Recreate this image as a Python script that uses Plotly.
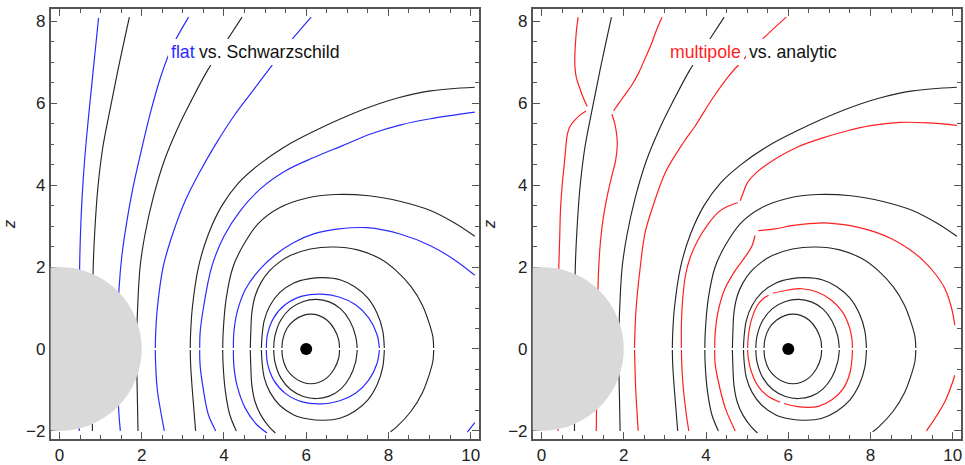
import plotly.graph_objects as go

# ---------------- data: contour curves, (x, z) ----------------
# black contours (identical in both panels); small breaks at z = 0 as in the original
black_1 = [(1.70, 8.10), (1.42, 6.8), (1.22, 5.8), (1.05, 4.9), (0.93, 3.9), (0.86, 2.9), (0.82, 2.0), (0.80, 0.025)]
black_1b = [(0.80, -0.025), (0.80, -2.0)]
black_2 = [(4.44, 8.10), (4.05, 7.5), (3.60, 6.8), (3.20, 6.05), (2.88, 5.4), (2.55, 4.6), (2.28, 3.7), (2.08, 2.8), (1.96, 2.0), (1.90, 1.0), (1.87, 0.025)]
black_2b = [(1.87, -0.025), (1.89, -1.0), (1.91, -2.0)]
black_3 = [(10.10, 6.39), (9.02, 6.30), (8.20, 6.12), (7.40, 5.85), (6.20, 5.32), (5.45, 4.92), (4.85, 4.50), (4.35, 4.05), (3.95, 3.50), (3.62, 2.80), (3.38, 2.0), (3.23, 1.0), (3.19, 0.4), (3.18, 0.025)]
black_3b = [(3.18, -0.025), (3.19, -0.4), (3.23, -1.0), (3.31, -2.0)]
black_4 = [(10.10, 2.75), (9.60, 3.08), (9.02, 3.38), (8.30, 3.60), (7.52, 3.74), (6.70, 3.77), (6.00, 3.68), (5.35, 3.45), (4.85, 3.08), (4.48, 2.55), (4.22, 2.0), (4.05, 1.2), (3.98, 0.4), (3.97, 0.025)]
black_4b = [(3.97, -0.025), (3.98, -0.4), (4.03, -1.0), (4.14, -1.6), (4.30, -2.0)]
black_5 = [(4.64, 0.025), (4.65, 0.35), (4.68, 0.90), (4.76, 1.30), (4.90, 1.62), (5.10, 1.90), (5.35, 2.12), (5.61, 2.28), (6.10, 2.44), (6.67, 2.49), (7.25, 2.42), (7.80, 2.20), (8.20, 1.90), (8.55, 1.52), (8.82, 1.08), (9.00, 0.60), (9.08, 0.30), (9.10, 0.025)]
black_5b = [(4.64, -0.025), (4.65, -0.35), (4.68, -0.90), (4.76, -1.30), (4.90, -1.62), (5.10, -1.90), (5.25, -2.05)]
black_5c = [(9.10, -0.025), (9.08, -0.30), (9.00, -0.60), (8.82, -1.08), (8.55, -1.52), (8.20, -1.90), (8.05, -2.02)]
black_6 = [(4.91, 0.025), (4.925, 0.30), (4.98, 0.70), (5.12, 1.06), (5.36, 1.38), (5.70, 1.61), (6.05, 1.71), (6.42, 1.74), (6.82, 1.69), (7.18, 1.52), (7.50, 1.24), (7.73, 0.86), (7.86, 0.45), (7.90, 0.025)]
black_6b = [(4.91, -0.025), (4.925, -0.30), (4.98, -0.70), (5.12, -1.06), (5.36, -1.38), (5.70, -1.61), (6.05, -1.71), (6.42, -1.74), (6.82, -1.69), (7.18, -1.52), (7.50, -1.24), (7.73, -0.86), (7.86, -0.45), (7.90, -0.025)]
black_7 = [(5.21, 0.025), (5.24, 0.32), (5.38, 0.70), (5.62, 0.99), (5.93, 1.16), (6.25, 1.21), (6.56, 1.15), (6.84, 0.98), (7.06, 0.69), (7.20, 0.32), (7.24, 0.025)]
black_7b = [(5.21, -0.025), (5.24, -0.32), (5.38, -0.70), (5.62, -0.99), (5.93, -1.16), (6.25, -1.21), (6.56, -1.15), (6.84, -0.98), (7.06, -0.69), (7.20, -0.32), (7.24, -0.025)]
black_8 = [(5.41, 0.025), (5.43, 0.23), (5.53, 0.50), (5.71, 0.70), (5.93, 0.82), (6.11, 0.85), (6.30, 0.82), (6.51, 0.70), (6.68, 0.49), (6.79, 0.22), (6.81, 0.025)]
black_8b = [(5.41, -0.025), (5.43, -0.23), (5.53, -0.50), (5.71, -0.70), (5.93, -0.82), (6.11, -0.85), (6.30, -0.82), (6.51, -0.70), (6.68, -0.49), (6.79, -0.22), (6.81, -0.025)]

# blue contours ("flat")
blue_1 = [(0.95, 8.08), (0.80, 6.6), (0.70, 5.6), (0.61, 4.6), (0.55, 3.7), (0.51, 2.8), (0.49, 2.0), (0.48, 0.025)]
blue_1b = [(0.48, -0.025), (0.48, -2.0)]
blue_2 = [(3.14, 8.10), (2.75, 7.4), (2.48, 6.7), (2.22, 5.8), (1.98, 4.8), (1.78, 3.9), (1.62, 3.0), (1.52, 2.3), (1.45, 1.5), (1.40, 0.025)]
blue_2b = [(1.40, -0.025), (1.44, -1.5), (1.48, -2.0)]
blue_3 = [(6.12, 8.10), (5.61, 7.5), (5.15, 6.9), (4.70, 6.3), (4.25, 5.7), (3.80, 5.0), (3.40, 4.3), (3.05, 3.6), (2.75, 2.8), (2.52, 2.0), (2.38, 1.0), (2.34, 0.4), (2.33, 0.025)]
blue_3b = [(2.33, -0.025), (2.34, -0.4), (2.38, -1.0), (2.55, -2.0)]
blue_4 = [(10.10, 5.78), (9.02, 5.62), (8.30, 5.47), (7.60, 5.26), (6.90, 4.97), (6.20, 4.68), (5.50, 4.35), (4.90, 3.92), (4.40, 3.38), (4.00, 2.75), (3.70, 2.0), (3.50, 1.0), (3.42, 0.4), (3.41, 0.025)]
blue_4b = [(3.41, -0.025), (3.42, -0.4), (3.50, -1.0), (3.62, -1.6), (3.80, -2.0)]
blue_5 = [(10.10, 1.80), (9.60, 2.18), (9.02, 2.52), (8.30, 2.80), (7.48, 2.96), (6.80, 2.93), (6.18, 2.81), (5.70, 2.60), (5.25, 2.30), (4.85, 1.92), (4.52, 1.45), (4.32, 0.90), (4.24, 0.40), (4.23, 0.025)]
blue_5b = [(4.23, -0.025), (4.24, -0.40), (4.32, -0.90), (4.52, -1.45), (4.80, -1.85), (5.05, -2.05)]
blue_5c = [(9.92, -2.03), (10.10, -1.80)]
blue_6 = [(5.03, 0.025), (5.06, 0.36), (5.21, 0.76), (5.50, 1.09), (5.90, 1.29), (6.35, 1.34), (6.80, 1.27), (7.20, 1.08), (7.52, 0.76), (7.72, 0.36), (7.78, 0.025)]
blue_6b = [(5.03, -0.025), (5.06, -0.36), (5.21, -0.76), (5.50, -1.09), (5.90, -1.29), (6.35, -1.34), (6.80, -1.27), (7.20, -1.08), (7.52, -0.76), (7.72, -0.36), (7.78, -0.025)]

# red contours ("multipole")
red_1a = [(0.89, 8.10), (0.85, 7.80), (0.83, 7.55), (0.81, 7.20), (0.81, 6.91), (0.84, 6.65), (0.91, 6.42), (1.00, 6.17), (1.11, 5.92)]
red_1b = [(1.08, 5.81), (0.95, 5.72), (0.83, 5.61), (0.72, 5.48), (0.66, 5.36), (0.62, 5.20), (0.60, 5.04), (0.55, 4.50), (0.50, 3.99), (0.46, 3.40), (0.44, 2.69), (0.42, 2.04), (0.40, 1.0), (0.40, 0.025)]
red_1c = [(0.40, -0.025), (0.40, -2.0)]
red_2a = [(2.93, 8.10), (2.80, 7.80), (2.68, 7.47), (2.52, 7.10), (2.36, 6.74), (2.20, 6.45), (2.04, 6.22), (1.88, 6.00), (1.75, 5.81)]
red_2b = [(1.71, 5.73), (1.78, 5.50), (1.83, 5.20), (1.84, 4.96), (1.80, 4.60), (1.71, 4.23), (1.60, 3.75), (1.50, 3.20), (1.43, 2.60), (1.39, 2.0), (1.36, 1.0), (1.35, 0.025)]
red_2c = [(1.35, -0.025), (1.34, -1.0), (1.33, -2.0)]
red_3 = [(5.95, 8.10), (5.38, 7.57), (4.95, 7.11), (4.55, 6.66), (4.14, 6.09), (3.74, 5.45), (3.45, 5.04), (3.01, 4.31), (2.73, 3.55), (2.52, 2.85), (2.40, 2.0), (2.30, 1.0), (2.27, 0.4), (2.26, 0.025)]
red_3b = [(2.26, -0.025), (2.27, -0.4), (2.29, -1.0), (2.35, -2.0)]
red_4a = [(10.10, 5.46), (9.40, 5.52), (8.71, 5.53), (8.00, 5.45), (7.42, 5.32), (6.80, 5.14), (6.20, 4.92), (5.70, 4.65), (5.23, 4.31), (5.00, 4.05), (4.90, 3.80), (4.83, 3.62)]
red_4b = [(4.77, 3.57), (4.67, 3.54), (4.48, 3.46), (4.30, 3.34), (4.05, 3.05), (3.82, 2.69), (3.62, 2.25), (3.50, 1.80), (3.43, 1.20), (3.40, 0.60), (3.40, 0.025)]
red_4c = [(3.40, -0.025), (3.42, -0.60), (3.46, -1.10), (3.52, -1.60), (3.58, -2.0)]
red_5a = [(5.19, 2.77), (5.11, 2.50), (4.95, 2.25), (4.70, 1.90), (4.45, 1.45), (4.28, 0.85), (4.22, 0.35), (4.21, 0.025)]
red_5b = [(4.21, -0.025), (4.22, -0.35), (4.30, -0.80), (4.47, -1.45), (4.71, -2.0)]
red_5c = [(5.27, 2.89), (5.68, 2.93), (6.08, 3.01), (6.50, 3.06), (6.89, 3.08), (7.30, 3.04), (7.70, 2.97), (8.10, 2.86), (8.51, 2.69), (8.95, 2.43), (9.32, 2.12), (9.60, 1.80), (9.81, 1.47), (9.97, 1.00), (10.05, 0.58)]
red_5d = [(10.05, -0.64), (9.81, -1.28), (9.36, -2.0)]
red_6a = [(5.01, 0.025), (5.03, 0.33), (5.10, 0.70), (5.24, 1.05), (5.38, 1.22), (5.52, 1.31)]
red_6b = [(5.62, 1.36), (6.00, 1.44), (6.33, 1.47), (6.70, 1.39), (7.05, 1.19), (7.32, 0.90), (7.49, 0.52), (7.55, 0.22), (7.56, 0.025)]
red_6c = [(7.56, -0.025), (7.55, -0.22), (7.50, -0.58), (7.34, -0.96), (7.06, -1.24), (6.73, -1.40), (6.35, -1.42), (6.08, -1.38), (5.90, -1.33)]
red_6d = [(5.80, -1.30), (5.50, -1.15), (5.26, -0.90), (5.10, -0.55), (5.03, -0.25), (5.01, -0.025)]

black_curves = [black_1, black_1b, black_2, black_2b, black_3, black_3b, black_4, black_4b,
                black_5, black_5b, black_5c, black_6, black_6b, black_7, black_7b, black_8, black_8b]
blue_curves = [blue_1, blue_1b, blue_2, blue_2b, blue_3, blue_3b, blue_4, blue_4b,
               blue_5, blue_5b, blue_5c, blue_6, blue_6b]
red_curves = [red_1a, red_1b, red_1c, red_2a, red_2b, red_2c, red_3, red_3b, red_4a, red_4b, red_4c,
              red_5a, red_5b, red_5c, red_5d, red_6a, red_6b, red_6c, red_6d]

ring_x = [6.0]
ring_z = [0.0]
horizon_radius = 2.0

x_ticks = [0, 2, 4, 6, 8, 10]
z_ticks = [-2, 0, 2, 4, 6, 8]

# ---------------- styling ----------------
BLACK = "#262626"
BLUE = "#2b2bff"
RED = "#ff1f1f"
AXC = "#555555"
FONT = "Liberation Sans, Arial, Helvetica, sans-serif"


def joined(curves):
    xs, zs = [], []
    for c in curves:
        for x, z in c:
            xs.append(x)
            zs.append(z)
        xs.append(None)
        zs.append(None)
    return xs, zs


fig = go.Figure()

panels = [("x", "y", blue_curves, BLUE), ("x2", "y2", red_curves, RED)]
for xa, ya, colored, col in panels:
    cx, cz = joined(colored)
    fig.add_trace(go.Scatter(x=cx, y=cz, xaxis=xa, yaxis=ya, mode="lines",
                             line=dict(color=col, width=1.2, shape="spline", smoothing=1.0),
                             hoverinfo="skip", showlegend=False))
    bx, bz = joined(black_curves)
    fig.add_trace(go.Scatter(x=bx, y=bz, xaxis=xa, yaxis=ya, mode="lines",
                             line=dict(color=BLACK, width=1.15, shape="spline", smoothing=1.0),
                             hoverinfo="skip", showlegend=False))
    fig.add_trace(go.Scatter(x=ring_x, y=ring_z, xaxis=xa, yaxis=ya, mode="markers",
                             marker=dict(color="black", size=12),
                             hoverinfo="skip", showlegend=False))
    fig.add_shape(type="circle", xref=xa, yref=ya,
                  x0=-horizon_radius, x1=horizon_radius, y0=-horizon_radius, y1=horizon_radius,
                  fillcolor="#d9d9d9", line=dict(width=0), layer="above")

xr = [-0.215, 10.2]
yr = [-2.2, 8.3]
tickfont = dict(family=FONT, size=17, color="#222")
common_x = dict(range=xr, tickvals=x_ticks, ticks="inside", ticklen=7, tickwidth=1.2, tickcolor=AXC,
                showline=True, linecolor=AXC, linewidth=1.6, mirror="ticks", showgrid=False, zeroline=False,
                minor=dict(dtick=0.5, tick0=0, ticks="inside", ticklen=4, tickcolor=AXC, tickwidth=1, showgrid=False),
                tickfont=tickfont)
common_y = dict(range=yr, tickvals=z_ticks, ticks="inside", ticklen=7, tickwidth=1.2, tickcolor=AXC,
                showline=True, linecolor=AXC, linewidth=1.6, mirror="ticks", showgrid=False, zeroline=False,
                minor=dict(dtick=0.5, tick0=0, ticks="inside", ticklen=4, tickcolor=AXC, tickwidth=1, showgrid=False),
                tickfont=tickfont,
                title=dict(text="<i>z</i>", font=dict(family=FONT, size=17, color="#222"), standoff=8))

fig.update_layout(
    width=965, height=465,
    margin=dict(l=0, r=0, t=0, b=0),
    plot_bgcolor="white", paper_bgcolor="white",
    xaxis=dict(domain=[0.05254, 0.49679], anchor="y", **common_x),
    yaxis=dict(domain=[0.05161, 0.98065], anchor="x", **common_y),
    xaxis2=dict(domain=[0.55264, 0.99689], anchor="y2", **common_x),
    yaxis2=dict(domain=[0.05161, 0.98065], anchor="x2", **common_y),
)

ann = dict(showarrow=False, yanchor="middle", xanchor="left", bgcolor="white", borderpad=3, borderwidth=0)
fs = 17.7
fig.add_annotation(xref="x", yref="y", x=2.65, y=7.24, text="flat", font=dict(family=FONT, size=fs, color=BLUE), **ann)
fig.add_annotation(xref="x", yref="y", x=3.32, y=7.24, text="vs. Schwarzschild", font=dict(family=FONT, size=fs, color="#111"), **ann)
fig.add_annotation(xref="x2", yref="y2", x=3.06, y=7.24, text="multipole", font=dict(family=FONT, size=fs, color=RED), **ann)
fig.add_annotation(xref="x2", yref="y2", x=4.98, y=7.24, text="vs. analytic", font=dict(family=FONT, size=fs, color="#111"), **ann)

fig.write_html("out.html", config={"displayModeBar": False},
               post_script="document.body.style.margin='0px';document.body.style.overflow='hidden';")
